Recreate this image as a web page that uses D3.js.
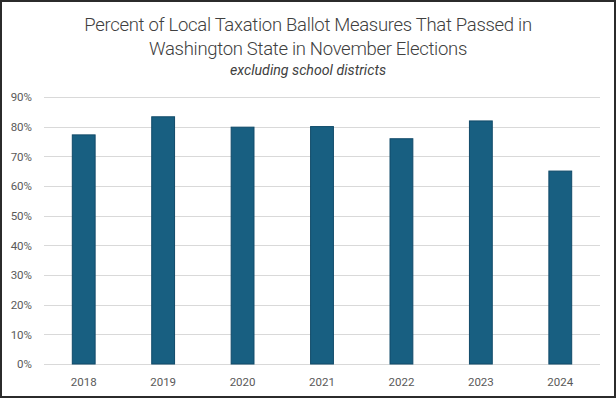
<!DOCTYPE html>
<html>
<head>
<meta charset="utf-8">
<script src="https://cdn.jsdelivr.net/npm/d3@7"></script>
<style>
  body { margin: 0; background: #fff; }
  svg { display: block; }
</style>
</head>
<body>
<svg id="chart"></svg>
<script>
const years = ["2018", "2019", "2020", "2021", "2022", "2023", "2024"];
const passed = [77.4, 83.5, 80.0, 80.2, 76.1, 82.1, 65.2];
const yTicks = [0, 10, 20, 30, 40, 50, 60, 70, 80, 90];
const titleLines = ["Percent of Local Taxation Ballot Measures That Passed in", "Washington State in November Elections"];
const subtitle = "excluding school districts";

const width = 616, height = 398;
const margin = { top: 97, right: 16, bottom: 34, left: 44 };

const svg = d3.select("#chart").attr("width", width).attr("height", height);

// outer frame
svg.append("rect")
  .attr("x", 1).attr("y", 1)
  .attr("width", width - 2).attr("height", height - 2)
  .attr("fill", "#fff").attr("stroke", "#2b2b2b").attr("stroke-width", 2);

const x = d3.scaleBand()
  .domain(years)
  .range([margin.left, width - margin.right])
  .paddingInner(0.7)
  .paddingOuter(0.35);

const y = d3.scaleLinear()
  .domain([0, 90])
  .range([height - margin.bottom, margin.top]);

// gridlines
svg.append("g")
  .selectAll("line")
  .data(yTicks)
  .join("line")
  .attr("x1", margin.left)
  .attr("x2", width - margin.right)
  .attr("y1", d => Math.round(y(d)) + 0.5)
  .attr("y2", d => Math.round(y(d)) + 0.5)
  .attr("stroke", "#d9d9d9")
  .attr("stroke-width", 1);

const labelFont = "Roboto, 'Open Sans', sans-serif";

const yAxis = g => g
  .attr("transform", `translate(${margin.left},0)`)
  .call(d3.axisLeft(y).tickValues(yTicks).tickSize(0).tickPadding(12).tickFormat(d => d + "%"))
  .call(g => g.select(".domain").remove())
  .call(g => g.selectAll("text")
    .attr("fill", "#595959")
    .attr("font-family", labelFont)
    .attr("font-size", 11.5));

const xAxis = g => g
  .attr("transform", `translate(0,${height - margin.bottom})`)
  .call(d3.axisBottom(x).tickSize(0).tickPadding(14))
  .call(g => g.select(".domain").remove())
  .call(g => g.selectAll("text")
    .attr("fill", "#595959")
    .attr("font-family", labelFont)
    .attr("font-size", 11.5));

svg.append("g").call(yAxis);
svg.append("g").call(xAxis);

// bars
svg.append("g")
  .selectAll("rect")
  .data(years.map((yr, i) => ({ yr, v: passed[i] })))
  .join("rect")
  .attr("x", d => x(d.yr) + 0.5)
  .attr("y", d => y(d.v) + 0.5)
  .attr("width", x.bandwidth() - 1)
  .attr("height", d => y(0) - y(d.v) - 0.5)
  .attr("fill", "#185f81")
  .attr("stroke", "#104a69")
  .attr("stroke-width", 1);

// titles
const title = svg.append("text")
  .attr("text-anchor", "middle")
  .attr("fill", "#404040")
  .attr("font-family", "Roboto, sans-serif")
  .attr("font-weight", 300)
  .attr("font-size", 18.5)
  .attr("letter-spacing", -0.3);

title.selectAll("tspan")
  .data(titleLines)
  .join("tspan")
  .attr("x", width / 2)
  .attr("y", (d, i) => 31 + i * 24)
  .text(d => d);

svg.append("text")
  .attr("x", width / 2)
  .attr("y", 75)
  .attr("text-anchor", "middle")
  .attr("fill", "#404040")
  .attr("font-family", "Roboto, sans-serif")
  .attr("font-style", "italic")
  .attr("font-size", 14.2)
  .text(subtitle);
</script>
</body>
</html>
